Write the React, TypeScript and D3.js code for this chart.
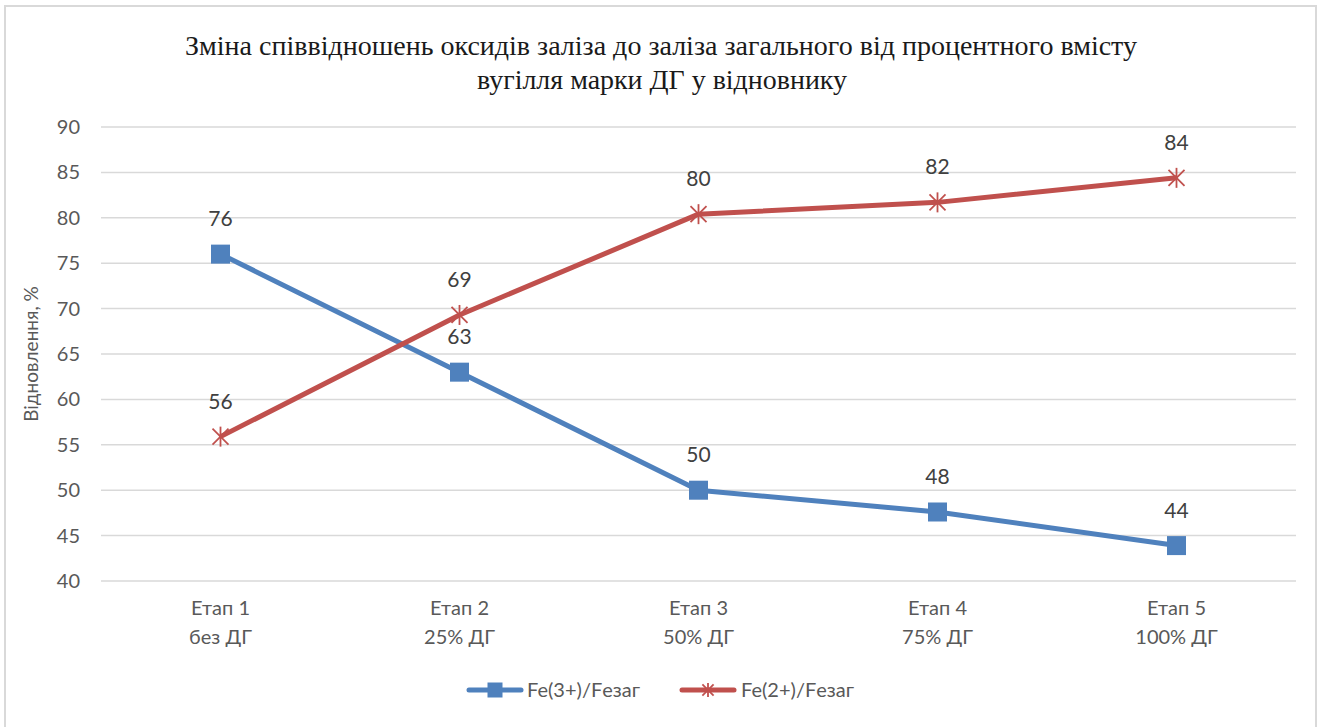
import { useMemo } from "react";
import { line, scaleBand, scaleLinear } from "d3";

const W = 1320;
const H = 727;
const M = { top: 127, right: 24, bottom: 146, left: 101 };

const stages = ["Етап 1", "Етап 2", "Етап 3", "Етап 4", "Етап 5"];
const doses = ["без ДГ", "25% ДГ", "50% ДГ", "75% ДГ", "100% ДГ"];
const fe3 = [76.0, 63.0, 50.0, 47.6, 43.9];
const fe2 = [55.9, 69.3, 80.4, 81.7, 84.4];
const yTicks = [40, 45, 50, 55, 60, 65, 70, 75, 80, 85, 90];

const BLUE = "#4f81bd";
const RED = "#c0504d";
const FONT = "Lato, 'Open Sans', sans-serif";

const Square = ({ x, y, s = 19 }: { x: number; y: number; s?: number }) => (
  <rect x={x - s / 2} y={y - s / 2} width={s} height={s} fill={BLUE} />
);

const Star = ({ x, y, r = 10 }: { x: number; y: number; r?: number }) => {
  const d = r * 0.8;
  return (
    <g stroke={RED} strokeWidth={1.8}>
      <line x1={x - d} y1={y - d} x2={x + d} y2={y + d} />
      <line x1={x - d} y1={y + d} x2={x + d} y2={y - d} />
      <line x1={x} y1={y - r} x2={x} y2={y + r} />
    </g>
  );
};

export default function App() {
  const x = useMemo(
    () => scaleBand<string>().domain(stages).range([M.left, W - M.right]),
    []
  );
  const y = useMemo(() => scaleLinear().domain([40, 90]).range([H - M.bottom, M.top]), []);
  const cx = (i: number) => (x(stages[i]) ?? 0) + x.bandwidth() / 2;

  const path = line<number>()
    .x((_, i) => cx(i))
    .y((v) => y(v));

  return (
    <svg
      width={W}
      height={H}
      style={{ position: "absolute", left: 0, top: 0, background: "#fff" }}
    >
      <rect x={5} y={6} width={1311} height={730} fill="#fff" stroke="#d9d9d9" strokeWidth={2} />

      <text x={661} y={55} textAnchor="middle" fontFamily="'Liberation Serif', serif" fontSize={27}
        textLength={952} lengthAdjust="spacingAndGlyphs" fill="#1a1a1a">
        Зміна співвідношень оксидів заліза до заліза загального від процентного вмісту
      </text>
      <text x={662} y={89} textAnchor="middle" fontFamily="'Liberation Serif', serif" fontSize={27}
        textLength={370} lengthAdjust="spacingAndGlyphs" fill="#1a1a1a">
        вугілля марки ДГ у відновнику
      </text>

      {yTicks.map((t) => (
        <g key={t}>
          <line x1={M.left} x2={W - M.right} y1={y(t)} y2={y(t)} stroke="#d9d9d9" strokeWidth={1.5} />
          <text x={80} y={y(t)} dy="0.35em" textAnchor="end" fontFamily={FONT} fontSize={20} fill="#595959">
            {t}
          </text>
        </g>
      ))}

      <text transform="translate(38,354) rotate(-90)" textAnchor="middle" fontFamily={FONT}
        fontSize={19} fill="#595959">
        Відновлення, %
      </text>

      {stages.map((s, i) => (
        <text key={s} x={cx(i)} y={615} textAnchor="middle" fontFamily={FONT} fontSize={20} fill="#595959">
          <tspan x={cx(i)}>{s}</tspan>
          <tspan x={cx(i)} dy={29}>{doses[i]}</tspan>
        </text>
      ))}

      <path d={path(fe3) ?? undefined} fill="none" stroke={BLUE} strokeWidth={5} strokeLinejoin="round" />
      <path d={path(fe2) ?? undefined} fill="none" stroke={RED} strokeWidth={5} strokeLinejoin="round" />

      {fe3.map((v, i) => (
        <g key={`b${i}`}>
          <Square x={cx(i)} y={y(v)} />
          <text x={cx(i)} y={y(v) - 28} textAnchor="middle" fontFamily={FONT} fontSize={21} fill="#404040">
            {Math.round(v)}
          </text>
        </g>
      ))}
      {fe2.map((v, i) => (
        <g key={`r${i}`}>
          <Star x={cx(i)} y={y(v)} />
          <text x={cx(i)} y={y(v) - 28} textAnchor="middle" fontFamily={FONT} fontSize={21} fill="#404040">
            {Math.round(v)}
          </text>
        </g>
      ))}

      <g>
        <line x1={469} x2={521} y1={690} y2={690} stroke={BLUE} strokeWidth={5} strokeLinecap="round" />
        <Square x={495} y={690} s={15} />
        <text x={527} y={690} dy="0.35em" fontFamily={FONT} fontSize={20} fill="#595959">Fe(3+)/Fезаг</text>
        <line x1={682} x2={734} y1={690} y2={690} stroke={RED} strokeWidth={5} strokeLinecap="round" />
        <Star x={708} y={690} r={7} />
        <text x={741} y={690} dy="0.35em" fontFamily={FONT} fontSize={20} fill="#595959">Fe(2+)/Fезаг</text>
      </g>
    </svg>
  );
}
